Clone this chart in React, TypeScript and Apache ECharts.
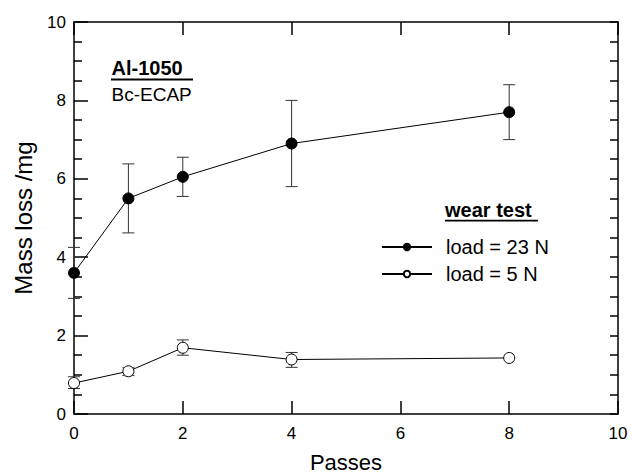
import React, { useEffect, useRef } from "react";
import * as echarts from "echarts";

const passes = [0, 1, 2, 4, 8];
const load23 = [3.6, 5.5, 6.05, 6.9, 7.7];
const load23Low = [2.95, 4.62, 5.55, 5.8, 7.0];
const load23High = [4.25, 6.38, 6.55, 8.0, 8.4];
const load5 = [0.79, 1.09, 1.69, 1.39, 1.43];
const load5Low: (number | null)[] = [0.65, 0.98, 1.5, 1.19, null];
const load5High: (number | null)[] = [0.95, 1.18, 1.89, 1.57, null];
const seriesNames = ["load = 23 N", "load = 5 N"];
const xTicks = { min: 0, max: 10, interval: 2 };
const yTicks = { min: 0, max: 10, interval: 2 };

const FONT = "'Liberation Sans', Arial, Helvetica, sans-serif";

function errData(lo: (number | null)[], hi: (number | null)[]) {
  const out: number[][] = [];
  passes.forEach((p, i) => {
    if (lo[i] != null && hi[i] != null) out.push([p, lo[i] as number, hi[i] as number]);
  });
  return out;
}

const renderErr = (params: any, api: any) => {
  const x = api.value(0);
  const lo = api.coord([x, api.value(1)]);
  const hi = api.coord([x, api.value(2)]);
  const w = 6;
  const style = { stroke: "#333", lineWidth: 1 };
  return {
    type: "group",
    children: [
      { type: "line", shape: { x1: lo[0], y1: lo[1], x2: hi[0], y2: hi[1] }, style },
      { type: "line", shape: { x1: lo[0] - w, y1: lo[1], x2: lo[0] + w, y2: lo[1] }, style },
      { type: "line", shape: { x1: hi[0] - w, y1: hi[1], x2: hi[0] + w, y2: hi[1] }, style },
    ],
  };
};

export default function App() {
  const ref = useRef<HTMLDivElement>(null);
  useEffect(() => {
    if (!ref.current) return;
    const chart = echarts.init(ref.current, undefined, { renderer: "svg" });
    const axisLine = { show: true, onZero: false, lineStyle: { color: "#000", width: 1.5 } };
    const option: any = {
      animation: false,
      backgroundColor: "#fff",
      textStyle: { fontFamily: FONT },
      grid: { left: 74, right: 14, top: 22, bottom: 62, outerBoundsMode: "none", containLabel: false },
      legend: {
        data: seriesNames,
        orient: "vertical",
        left: 381,
        top: 237,
        padding: 0,
        itemWidth: 50,
        itemHeight: 8,
        itemGap: 7,
        textStyle: { fontSize: 20, color: "#000", fontFamily: FONT, padding: [0, 0, 0, 9] },
      },
      xAxis: [
        {
          type: "value",
          position: "bottom",
          ...xTicks,
          name: "Passes",
          nameLocation: "middle",
          nameGap: 37,
          nameTextStyle: { fontSize: 22, color: "#000", fontFamily: FONT },
          axisLine,
          axisTick: { show: true, inside: true, length: 13, lineStyle: { color: "#000", width: 1.5 } },
          axisLabel: { fontSize: 17, color: "#000", margin: 11, fontFamily: FONT },
          splitLine: { show: false },
        },
        {
          type: "value",
          position: "top",
          ...xTicks,
          axisLine,
          axisTick: { show: true, inside: true, length: 13, lineStyle: { color: "#000", width: 1.5 } },
          axisLabel: { show: false },
          splitLine: { show: false },
        },
      ],
      yAxis: [
        {
          type: "value",
          position: "left",
          ...yTicks,
          name: "Mass loss /mg",
          nameLocation: "middle",
          nameGap: 39,
          nameTextStyle: { fontSize: 24, color: "#000", fontFamily: FONT },
          axisLine,
          axisTick: { show: true, inside: true, length: 14, lineStyle: { color: "#000", width: 1.5 } },
          minorTick: { show: true, splitNumber: 4, length: 8, lineStyle: { color: "#000", width: 1.5 } },
          axisLabel: { fontSize: 17, color: "#000", margin: 8, fontFamily: FONT },
          splitLine: { show: false },
          minorSplitLine: { show: false },
        },
        {
          type: "value",
          position: "right",
          min: 0,
          max: 10,
          interval: 0.5,
          axisLine,
          axisTick: { show: true, inside: true, length: 8, lineStyle: { color: "#000", width: 1.5 } },
          axisLabel: { show: false },
          splitLine: { show: false },
        },
      ],
      series: [
        {
          type: "custom",
          name: "err23",
          xAxisIndex: 0,
          yAxisIndex: 0,
          renderItem: renderErr,
          data: errData(load23Low, load23High),
          encode: { x: 0, y: [1, 2] },
          z: 1,
          silent: true,
          clip: false,
        },
        {
          type: "custom",
          name: "err5",
          xAxisIndex: 0,
          yAxisIndex: 0,
          renderItem: renderErr,
          data: errData(load5Low, load5High),
          encode: { x: 0, y: [1, 2] },
          z: 1,
          silent: true,
          clip: false,
        },
        {
          type: "line",
          name: seriesNames[0],
          xAxisIndex: 0,
          yAxisIndex: 0,
          data: passes.map((p, i) => [p, load23[i]]),
          symbol: "circle",
          symbolSize: 11,
          showAllSymbol: true,
          lineStyle: { color: "#000", width: 1 },
          itemStyle: { color: "#000", borderColor: "#000", borderWidth: 1 },
          z: 3,
          clip: false,
        },
        {
          type: "line",
          name: seriesNames[1],
          xAxisIndex: 0,
          yAxisIndex: 0,
          data: passes.map((p, i) => [p, load5[i]]),
          symbol: "circle",
          symbolSize: 11,
          showAllSymbol: true,
          lineStyle: { color: "#000", width: 1 },
          itemStyle: { color: "#fff", borderColor: "#000", borderWidth: 1 },
          z: 3,
          clip: false,
        },
      ],
      graphic: [
        {
          type: "text",
          x: 111.5,
          y: 67.5,
          style: { text: "Al-1050", fontSize: 20, fontWeight: "bold", fill: "#000", fontFamily: FONT, verticalAlign: "middle" },
        },
        {
          type: "line",
          shape: { x1: 111, y1: 79.5, x2: 193, y2: 79.5 },
          style: { stroke: "#000", lineWidth: 1.8 },
        },
        {
          type: "text",
          x: 111.5,
          y: 94.5,
          style: { text: "Bc-ECAP", fontSize: 19, fill: "#000", fontFamily: FONT, verticalAlign: "middle" },
        },
        {
          type: "text",
          x: 445,
          y: 210,
          style: { text: "wear test", fontSize: 20, fontWeight: "bold", fill: "#000", fontFamily: FONT, verticalAlign: "middle" },
        },
        {
          type: "line",
          shape: { x1: 445, y1: 220.7, x2: 538, y2: 220.7 },
          style: { stroke: "#000", lineWidth: 1.8 },
        },
      ],
    };
    chart.setOption(option);
    return () => chart.dispose();
  }, []);
  return <div ref={ref} style={{ position: "fixed", left: 0, top: 0, width: 632, height: 476 }} />;
}
